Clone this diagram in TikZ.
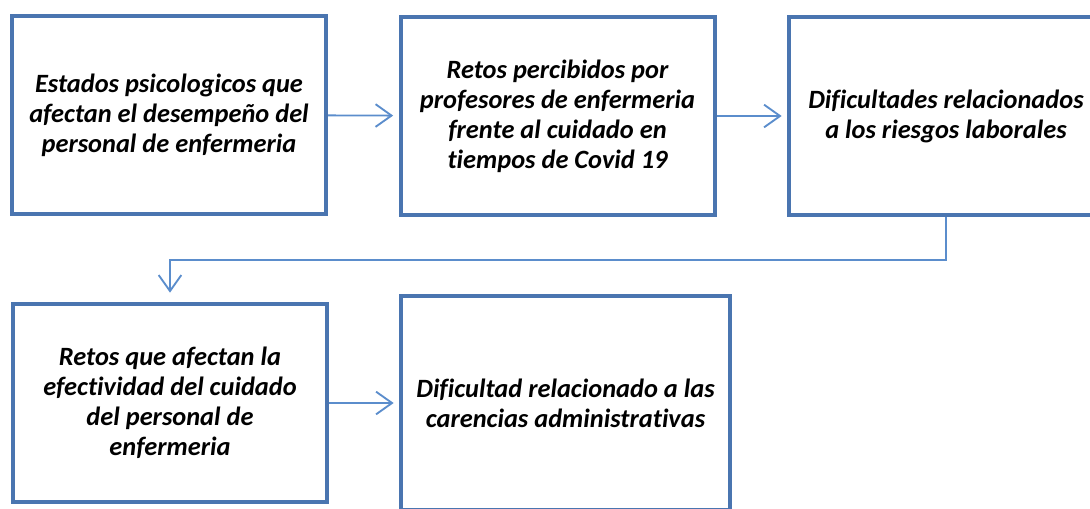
\documentclass[tikz,border=0pt]{standalone}
\usepackage{fontspec}
\setmainfont{Carlito}[Ligatures=NoCommon]
\usetikzlibrary{arrows.meta}

\definecolor{boxblue}{RGB}{74,117,176}
\definecolor{arrowblue}{RGB}{91,141,204}

\tikzset{
    box/.style={draw=boxblue, line width=3pt, rectangle, minimum width=235.5pt,
        minimum height=148.5pt, align=center,
        font=\fontsize{19.8}{22.5}\selectfont\bfseries\itshape},
    link/.style={draw=arrowblue, line width=1.4pt,
        -{Straight Barb[length=12pt,width=17pt,line width=1.4pt]}, shorten >=4pt}
}

\begin{document}
\begin{tikzpicture}[x=0.75pt,y=-0.75pt]
        \clip (0,0) rectangle (1090,508);

        \node[box] (estados) at (169,115) {Estados psicologicos que\\afectan el desempeño del\\personal de enfermeria};
        \node[box] (retos) at (557.5,116) {Retos percibidos por\\profesores de enfermeria\\frente al cuidado en\\tiempos de Covid 19};
        \node[box] (riesgos) at (946,116) {Dificultades relacionados\\a los riesgos laborales};
        \node[box] (cuidado) at (170,403) {Retos que afectan la\\efectividad del cuidado\\del personal de\\enfermeria};
        \node[box, minimum width=246.75pt, minimum height=160.5pt] (carencias) at (565.5,403) {Dificultad relacionado a las\\carencias administrativas};

        \draw[link] (estados) -- (retos);
        \draw[link] (retos) -- (riesgos);
        \draw[link, shorten >=7pt] (riesgos.south) -- ++(0,43) -| (cuidado.north);
        \draw[link] (cuidado) -- (carencias);

    \end{tikzpicture}
\end{document}
